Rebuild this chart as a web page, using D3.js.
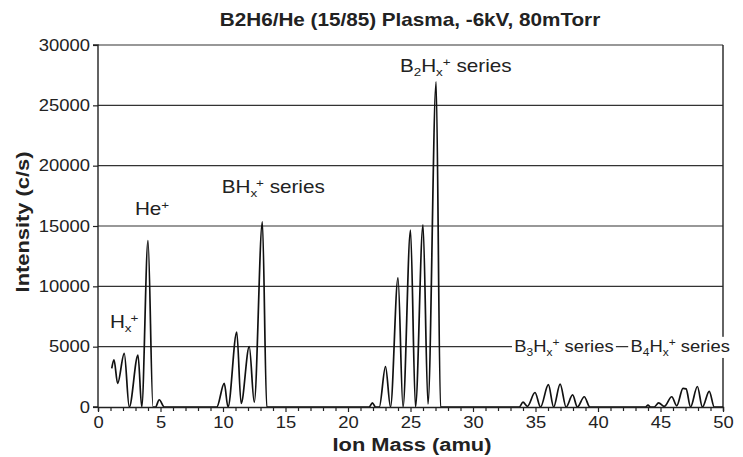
<!DOCTYPE html>
<html><head><meta charset="utf-8">
<script src="https://cdn.jsdelivr.net/npm/d3@7"></script>
<style>body{margin:0;background:#fff}svg{display:block}</style>
</head><body>
<svg id="c" width="743" height="457"></svg>
<script>
// ---- data ----
const title = "B2H6/He (15/85) Plasma, -6kV, 80mTorr";
const xLabel = "Ion Mass (amu)";
const yLabel = "Intensity (c/s)";
const yTicks = [0, 5000, 10000, 15000, 20000, 25000, 30000];
const xTicks = [0, 5, 10, 15, 20, 25, 30, 35, 40, 45, 50];
const mass = [1.1, 1.28, 1.57, 2.1, 2.5, 3.2, 3.5, 4.0, 4.4, 4.6, 4.9, 5.3,
  9.5, 10.1, 10.4, 11.1, 11.45, 12.1, 12.5, 13.15, 13.5,
  21.7, 21.95, 22.2, 22.5, 23.0, 23.4, 24.0, 24.4, 25.0, 25.4, 26.0, 26.4, 27.05, 27.4,
  33.7, 34.0, 34.35, 34.96, 35.4, 36.03, 36.45, 36.97, 37.45, 37.97, 38.35, 38.9, 39.35,
  43.8, 44.0, 44.2, 44.5, 44.85, 45.3, 45.9, 46.3, 46.8, 47.05, 47.4, 47.95, 48.35, 48.9, 49.3, 50];
const intensity = [3200, 3900, 1950, 4450, 0, 4300, 0, 13800, 0, 0, 600, 0,
  0, 1950, 0, 6200, 300, 5000, 400, 15350, 0,
  0, 350, 0, 0, 3350, 0, 10700, 0, 14650, 0, 15100, 250, 26950, 0,
  0, 400, 50, 1200, 0, 1850, 0, 1900, 0, 1000, 0, 850, 0,
  0, 150, 0, 0, 350, 50, 850, 100, 1550, 1500, 0, 1700, 0, 1300, 0, 0];
// annotation labels
const annBase = ["H", "He", "BH", "B", "B", "B"];
const annSub = ["x", "", "x", "2", "3", "4"];
const annSuffix = ["", "", " series", " series", " series", " series"];

// ---- layout ----
const svg = d3.select("#c");
const W = 743, H = 457;
const L = 98, R = 723, T = 45, B = 407;
const SX = 1.15;
const font = "'Liberation Sans', Arial, Helvetica, sans-serif";
const x = d3.scaleLinear().domain([0, 50]).range([L, R]);
const y = d3.scaleLinear().domain([0, 30000]).range([B, T]);

svg.append("rect").attr("width", W).attr("height", H).attr("fill", "#fff");

// grid lines
svg.append("g").selectAll("line").data(yTicks.filter(d => d > 0)).join("line")
  .attr("x1", L).attr("x2", R).attr("y1", d => y(d)).attr("y2", d => y(d))
  .attr("stroke", "#333").attr("stroke-width", 1.2);
// right border
svg.append("line").attr("x1", R).attr("x2", R).attr("y1", T).attr("y2", B)
  .attr("stroke", "#222").attr("stroke-width", 1.4);

// data line
const pts = mass.map((m, i) => [m, intensity[i]]);
const line = d3.line().x(d => x(d[0])).y(d => y(d[1])).curve(d3.curveMonotoneX);
svg.append("path").attr("d", line(pts)).attr("fill", "none")
  .attr("stroke", "#111").attr("stroke-width", 1.7).attr("stroke-linejoin", "round");

// axes
const yAxis = d3.axisLeft(y).tickValues(yTicks).tickSize(5).tickPadding(2).tickFormat(d3.format("d"));
const gy = svg.append("g").attr("transform", `translate(${L},0)`).call(yAxis);
const xAxis = d3.axisBottom(x).ticks(50).tickSize(4).tickFormat(d => xTicks.includes(d) ? d : "");
const gx = svg.append("g").attr("transform", `translate(0,${B})`).call(xAxis);
[gx, gy].forEach(g => {
  g.select(".domain").attr("stroke", "#222").attr("stroke-width", 1.4);
  g.selectAll(".tick line").attr("stroke", "#222").attr("stroke-width", 1.2);
  g.selectAll("text").attr("font-family", font).attr("font-size", 16).attr("fill", "#222");
});
gx.selectAll(".tick").filter(d => xTicks.includes(d)).select("line").attr("y2", 5);
gx.selectAll("text").attr("dy", "0.9em");
gy.selectAll("text").attr("transform", `scale(${SX},1)`);
gx.selectAll("text").attr("transform", `scale(${SX},1)`);
gy.select(".domain").attr("d", `M-5,${T}H0V${B}H-5`);

// title and axis labels
function txt(px, py, s, size, weight, anchor, rot) {
  return svg.append("text")
    .attr("transform", `translate(${px},${py})` + (rot ? ` rotate(${rot})` : "") + ` scale(${SX},1)`)
    .attr("font-family", font).attr("font-size", size).attr("font-weight", weight)
    .attr("text-anchor", anchor).attr("fill", "#222").text(s);
}
txt(410, 26, title, 18, "bold", "middle");
txt(412, 451, xLabel, 19, "bold", "middle");
txt(29, 222, yLabel, 19, "bold", "middle", -90);

// annotations
function ann(i, px, py, size, bg) {
  const g = svg.append("g").attr("transform", `translate(${px},${py}) scale(${SX},1)`);
  const t = g.append("text").attr("font-family", font).attr("font-size", size).attr("fill", "#222");
  const small = size * 0.65;
  t.append("tspan").text(annBase[i]);
  let dy = 0;
  if (/[0-9]/.test(annSub[i])) {
    t.append("tspan").text(annSub[i]).attr("font-size", small).attr("dy", 4);
    t.append("tspan").text("H").attr("dy", -4);
    t.append("tspan").text("x").attr("font-size", small).attr("dy", 4);
    t.append("tspan").text("+").attr("font-size", small).attr("dy", -10);
    dy = 6;
  } else {
    if (annSub[i]) {
      t.append("tspan").text(annSub[i]).attr("font-size", small).attr("dy", 4);
      t.append("tspan").text("+").attr("font-size", small).attr("dy", -10).attr("dx", -1);
      dy = 6;
    } else {
      t.append("tspan").text("+").attr("font-size", small).attr("dy", -6);
      dy = 6;
    }
  }
  if (annSuffix[i]) t.append("tspan").text(annSuffix[i]).attr("dy", dy);
  if (bg) {
    const bb = t.node().getBBox();
    g.insert("rect", "text").attr("x", bb.x - 2).attr("y", bb.y).attr("width", bb.width + 4)
      .attr("height", bb.height).attr("fill", "#fff");
  }
}
ann(0, x(0.95), y(6550), 18);
ann(1, x(2.95), y(15950), 18);
ann(2, x(9.9), y(17750), 18);
ann(3, x(24.15), y(27800), 18);
ann(4, x(33.3), y(4550), 16, true);
ann(5, x(42.6), y(4550), 16, true);
</script>
</body></html>
